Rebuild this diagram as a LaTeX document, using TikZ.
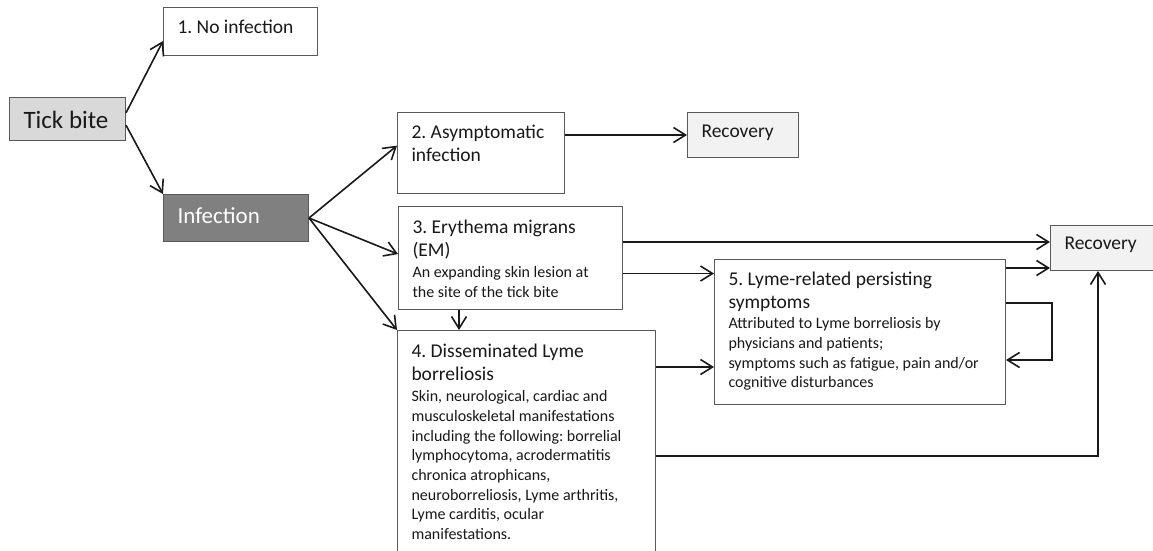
\documentclass[tikz,border=0pt]{standalone}
\usepackage{fontspec}
\setmainfont{Carlito}
\usetikzlibrary{arrows.meta}
\frenchspacing
\newcommand{\lbhead}{\fontsize{19.5}{22.5}\selectfont}
\newcommand{\lbbody}{\fontsize{16}{19.7}\selectfont}
\tikzset{
every node/.style={draw=black!65,line width=1pt,anchor=north west,align=flush left,inner xsep=14pt,inner ysep=0pt,text=black!90},
style1/.style= {fill=black!15,font=\fontsize{25}{30}\selectfont},
style2/.style= {fill=black!50,text=white,font=\fontsize{23}{28}\selectfont},
style3/.style= {fill=white,font=\lbhead},
style4/.style= {fill=black!5,font=\lbhead}
}
\begin{document}
\begin{tikzpicture}[
x=1pt,y=-1pt,
link/.style={->,line width=1.6pt,black!90},
>={Straight Barb[length=12pt,width=15pt]}]
\useasboundingbox (0,0) rectangle (1153,550);
\clip (0,0) rectangle (1153,550);

\node[style1,text width=88pt,text height=31pt,text depth=12pt] (t) at (9,97) {Tick bite};
\node[style3,text width=126pt,text height=26pt,text depth=22pt] (c1) at (163,7) {1. No infection};
\node[style2,text width=117pt,text height=29pt,text depth=18pt] (c2) at (163,194) {Infection};
\node[style3,text width=139pt,text height=26pt,text depth=55pt] (c21) at (397,112) {2. Asymptomatic\\ infection};
\node[style4,text width=83pt,text height=25pt,text depth=20pt] (r1) at (687,112) {Recovery};
\node[style3,text width=196pt,text height=27pt,text depth=76pt] (c22) at (398,206) {3. Erythema migrans\\ (EM)\par\vspace{2pt}{\lbbody An expanding skin lesion at\\ the site of the tick bite\par}};
\node[style3,text width=230pt,text height=27pt,text depth=215pt] (c23) at (397,330) {4. Disseminated Lyme\\ borreliosis\par\vspace{2pt}{\lbbody Skin, neurological, cardiac and\\ musculoskeletal manifestations\\ including the following: borrelial\\ lymphocytoma, acrodermatitis\\ chronica atrophicans,\\ neuroborreliosis, Lyme arthritis,\\ Lyme carditis, ocular\\ manifestations.\par}};
\node[style3,text width=263pt,text height=26pt,text depth=119pt] (c24) at (714,259) {5. Lyme-related persisting\\ symptoms\par\vspace{1pt}{\lbbody Attributed to Lyme borreliosis by\\ physicians and patients;\\ symptoms such as fatigue, pain and/or\\ cognitive disturbances\par}};
\node[style4,text width=83pt,text height=24pt,text depth=21pt] (r2) at (1050,225) {Recovery};

\coordinate (d) at ([xshift=61pt]c22.south west);
\coordinate (r2a) at ([yshift=6pt]r2.west);
\coordinate (r2b) at ([yshift=-20pt]r2.west);

\draw[link] (t.6) -- ([yshift=15pt]c1.south west);
\draw[link] (t.-6) -- (c2.north west);
\draw[link] (c2.east) -- (c21.175);
\draw[link] (c2.east) -- (c22.178);
\draw[link] (c2.east) -- (c23.north west);
\draw[link] (d) -- (d |- c23.north);
\draw[link] (c21.east |- r1.west) -- (r1.west);
\draw[link] (c22.east |- r2a) -- (r2a);
\draw[link] ([yshift=-15.5pt]c22.east) -- ([yshift=-15.5pt]c22.east -| c24.west);
\draw[link] (c24.east |- r2b) -- (r2b);
\draw[link] ([yshift=29pt]c24.east) -- ++(46,0) |- ([yshift=-28pt]c24.east);
\draw[link] ([yshift=-37pt]c23.north east) -- ([yshift=-37pt]c23.north east -| c24.west);
\draw[link] ([yshift=-126pt]c23.north east) -| ([xshift=48pt]r2.south west);
\end{tikzpicture}
\end{document}
